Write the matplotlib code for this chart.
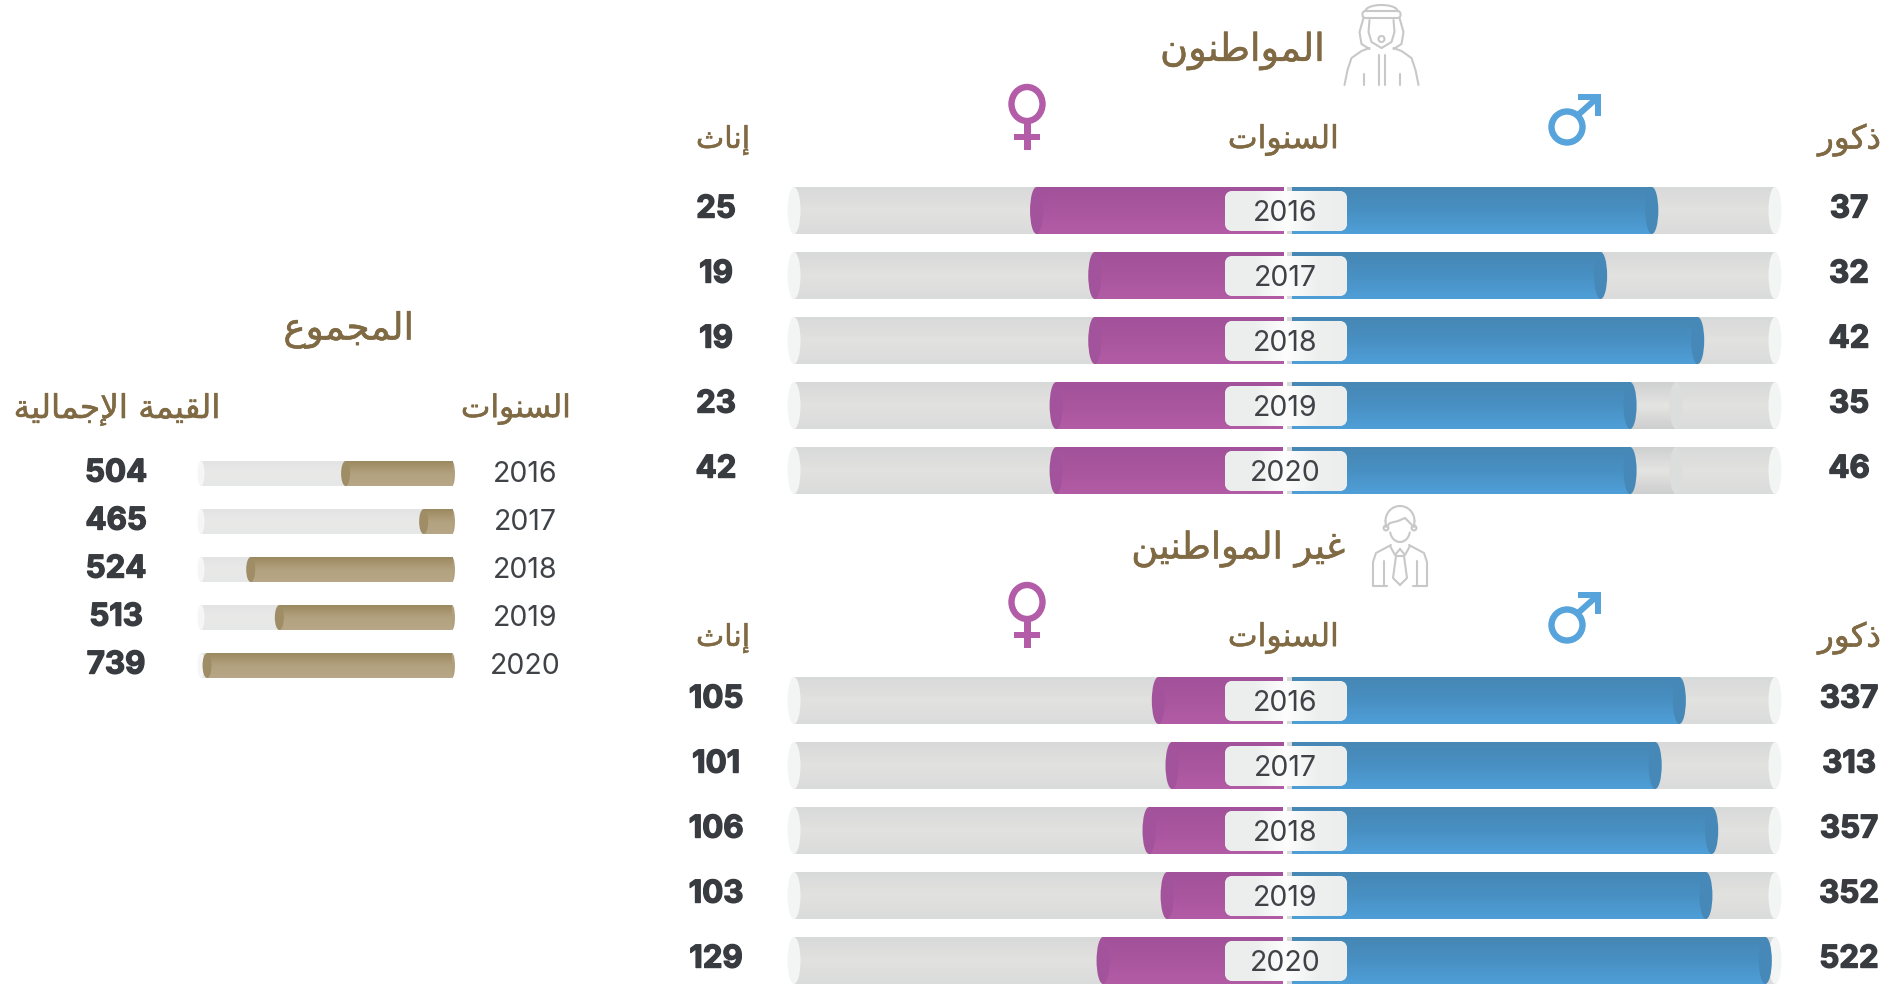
import numpy as np
import matplotlib
matplotlib.use("Agg")
import matplotlib.pyplot as plt
import matplotlib.patheffects as pe
from matplotlib.patches import Ellipse, FancyBboxPatch, Circle, Polygon
from matplotlib.lines import Line2D

# ---------- data ----------
years = [2016, 2017, 2018, 2019, 2020]

cit_female_labels = [25, 19, 19, 23, 42]
cit_male_labels = [37, 32, 42, 35, 46]
non_female_labels = [105, 101, 106, 103, 129]
non_male_labels = [337, 313, 357, 352, 522]
total_labels = [504, 465, 524, 513, 739]

# filled share of each track (%), as drawn
cit_female_fill = [50.4, 38.5, 38.5, 46.4, 46.4]
cit_male_fill = [74.5, 63.9, 84.0, 70.0, 70.0]
cit_male_ghost = [0, 0, 0, 79.5, 79.5]
non_female_fill = [25.5, 22.7, 27.4, 23.7, 36.8]
non_male_fill = [80.2, 75.2, 86.9, 85.7, 98.0]
total_fill = [42.4, 11.3, 80.2, 68.8, 97.6]

title_citizens = "المواطنون"
title_non = "غير المواطنين"
title_total = "المجموع"
label_years = "السنوات"
label_male = "ذكور"
label_female = "إناث"
label_value = "القيمة الإجمالية"

# ---------- style ----------
W, H = 1894, 984
BROWN = "#806a44"
DARK = "#383b3f"
YEARC = "#3f4246"
ICON = "#c8c8c8"
BLUE = ["#4687b4", "#4890c3", "#4f9fd8"]
MAG = ["#a2529a", "#a9569e", "#b35ca6"]
GOLD = ["#9b8960", "#b3a27f", "#b7a788"]
GREY = ["#d8d9d9", "#e2e2e0", "#dadbdb"]
GREY_L = ["#e3e4e4", "#e9e9e8", "#e6e7e7"]
GHOST = ["#cfd0d0", "#e4e4e3", "#cdcece"]
CAP = "#f3f4f4"

FONT_NUM = ["Inter", "DejaVu Sans"]

fig = plt.figure(figsize=(W / 100, H / 100), dpi=100, facecolor="white")


# ---------- Arabic shaping (matplotlib has no text shaping) ----------
FORMS = {"ا": (0xFE8D, 2), "إ": (0xFE87, 2), "ث": (0xFE99, 4), "ت": (0xFE95, 4),
         "ة": (0xFE93, 2), "ج": (0xFE9D, 4), "ذ": (0xFEAB, 2), "ر": (0xFEAD, 2),
         "س": (0xFEB1, 4), "ط": (0xFEC1, 4), "ع": (0xFEC9, 4), "غ": (0xFECD, 4),
         "ق": (0xFED5, 4), "ك": (0xFED9, 4), "ل": (0xFEDD, 4), "م": (0xFEE1, 4),
         "ن": (0xFEE5, 4), "و": (0xFEED, 2), "ي": (0xFEF1, 4)}


def shape(text):
    out = []
    chars = list(text.replace("لإ", "\uE001"))
    for i, c in enumerate(chars):
        prev = chars[i - 1] if i else " "
        nxt = chars[i + 1] if i + 1 < len(chars) else " "
        joined_prev = prev in FORMS and FORMS[prev][1] == 4
        if c == "\uE001":
            out.append(chr(0xFEFA if joined_prev else 0xFEF9))
            continue
        if c not in FORMS:
            out.append(c)
            continue
        start, n = FORMS[c]
        joins_next = n == 4 and (nxt in FORMS or nxt == "\uE001")
        idx = (1 if joined_prev else 0) if not joins_next else (3 if joined_prev else 2)
        out.append(chr(start + idx))
    return "".join(reversed(out))


# ---------- helpers ----------
def gradient(stops, n=128):
    pos = np.linspace(0, 1, len(stops))
    rgb = np.array([matplotlib.colors.to_rgb(s) for s in stops])
    t = np.linspace(0, 1, n)
    return np.stack([np.interp(t, pos, rgb[:, k]) for k in range(3)], axis=1)


def panel(px_zero, px_full, px_a, px_b, top, row_pitch, bar_h):
    """Axes whose x is % of track, and whose y is the row index."""
    left, right = min(px_a, px_b), max(px_a, px_b)
    half = bar_h / 2 / row_pitch
    height = 4 * row_pitch + bar_h
    ax = fig.add_axes([left / W, 1 - (top + height) / H, (right - left) / W, height / H])
    scale = (px_full - px_zero) / 100.0
    ax.set_xlim((left - px_zero) / scale, (right - px_zero) / scale)
    ax.set_ylim(4 + half, -half)
    ax.axis("off")
    ax.patch.set_alpha(0)
    ax.px_per_unit = abs(scale)
    ax.bar_rows = bar_h / row_pitch
    return ax


def cylinder(ax, lefts, rights, stops, z):
    rows = np.arange(len(lefts))
    lefts, rights = np.asarray(lefts, float), np.asarray(rights, float)
    bars = ax.barh(rows, rights - lefts, left=lefts, height=ax.bar_rows,
                   color=stops[1], linewidth=0, zorder=z)
    xl, yl = ax.get_xlim(), ax.get_ylim()
    g = gradient(stops)[:, None, :]
    for r, b, l0, r0 in zip(rows, bars, lefts, rights):
        if r0 == l0:
            continue
        h = ax.bar_rows / 2
        im = ax.imshow(g, extent=(l0, r0, r + h, r - h), aspect="auto",
                       interpolation="bilinear", zorder=z + 0.1, origin="upper")
        im.set_clip_path(b)
    ax.set_xlim(xl)
    ax.set_ylim(yl)


def caps(ax, xs, color, z, px_w=13):
    for r, x in enumerate(xs):
        if x == 0:
            continue
        ax.add_patch(Ellipse((x, r), px_w / ax.px_per_unit, ax.bar_rows,
                             facecolor=color, edgecolor="none", zorder=z, clip_on=False))


def draw_half(ax, fill, stops, capcol, track_from, ghost=None):
    n = len(fill)
    cylinder(ax, [track_from] * n, [100] * n, GREY, 1)
    caps(ax, [100] * n, CAP, 2)
    if ghost is not None:
        cylinder(ax, [f if g else 0 for f, g in zip(fill, ghost)], ghost, GHOST, 3)
        caps(ax, ghost, "#dcdddd", 4)
    cylinder(ax, [0] * n, fill, stops, 5)
    caps(ax, fill, capcol, 6)


over = fig.add_axes([0, 0, 1, 1], zorder=20)
over.set_xlim(0, W)
over.set_ylim(H, 0)
over.axis("off")
over.patch.set_alpha(0)
renderer = fig.canvas.get_renderer()


def ar_text(s, x0, x1, yc):
    t = over.text((x0 + x1) / 2, yc, shape(s), color=BROWN, ha="center", va="center",
                  family="DejaVu Sans", fontsize=20, zorder=6,
                  path_effects=[pe.withStroke(linewidth=0.4, foreground=BROWN)])
    w = t.get_window_extent(renderer).width
    t.set_fontsize(20 * (x1 - x0) / w)
    return t


def num(v, x, y, size=22.5):
    over.text(x, y, str(v), color=DARK, ha="center", va="center", family=FONT_NUM,
              fontsize=size, fontweight="bold", zorder=6,
              path_effects=[pe.withStroke(linewidth=1.0, foreground=DARK)])


def year(v, x, y, size=20.5):
    over.text(x, y, str(v), color=YEARC, ha="center", va="center", family=FONT_NUM,
              fontsize=size, zorder=6)


def stroke(xs, ys, lw=1.5, color=ICON):
    over.add_line(Line2D(xs, ys, color=color, lw=lw, solid_capstyle="round",
                         solid_joinstyle="round"))


def male_symbol(dy, col="#57a3dc"):
    over.add_patch(Circle((1567, 127 + dy), 15.5, fill=False, ec=col, lw=4.6))
    stroke([1578, 1597], [115 + dy, 98 + dy], lw=4.4, color=col)
    over.add_patch(Polygon([(1578, 94 + dy), (1601, 94 + dy), (1601, 116 + dy), (1595, 116 + dy),
                            (1595, 100 + dy), (1578, 100 + dy)], fc=col, ec="none"))


def female_symbol(dy, col="#b35ca8"):
    over.add_patch(Ellipse((1027, 104 + dy), 31, 34, fill=False, ec=col, lw=4.6))
    over.add_patch(Polygon([(1023.5, 122 + dy), (1030.5, 122 + dy), (1030.5, 150 + dy), (1023.5, 150 + dy)],
                           fc=col, ec="none"))
    over.add_patch(Polygon([(1014, 134 + dy), (1040, 134 + dy), (1040, 140 + dy), (1014, 140 + dy)],
                           fc=col, ec="none"))


def citizen_icon():
    c = 1381.5
    t = np.linspace(np.pi, 2 * np.pi, 30)
    stroke(c + 16 * np.cos(t), 11 + 6 * np.sin(t))
    over.add_patch(FancyBboxPatch((c - 19, 11), 38, 7, boxstyle="round,pad=0,rounding_size=3",
                                  fill=False, ec=ICON, lw=1.5))
    for s in (-1, 1):
        stroke([c + s * 18, c + s * 22, c + s * 20, c + s * 12],
               [18, 32, 44, 49])
        stroke([c + s * 12, c + s * 13, c + s * 10, c],
               [20, 32, 42, 48])
        stroke([c + s * 12, c + s * 20, c + s * 30, c + s * 34, c + s * 37],
               [48, 51, 58, 70, 85])
        stroke([c + s * 3, c + s * 3], [55, 85])
        stroke([c + s * 18, c + s * 18], [74, 85])
    over.add_patch(Circle((c, 39), 3, fill=False, ec=ICON, lw=1.5))


def person_icon():
    c = 1400
    t = np.linspace(np.pi, 2 * np.pi, 30)
    stroke(c + 14.5 * np.cos(t), 521 + 15 * np.sin(t))
    stroke([1385.5, 1386, 1390, 1398, 1405, 1409, 1414, 1414.5], [521, 527, 523, 521, 518, 522, 527, 521])
    stroke(c + 10 * np.cos(np.linspace(0.2, np.pi - 0.2, 30)),
           530 + 12 * np.sin(np.linspace(0.2, np.pi - 0.2, 30)))
    for s in (-1, 1):
        over.add_patch(Circle((c + s * 14, 528), 2.4, fill=False, ec=ICON, lw=1.5))
        stroke([c + s * 9, c + s * 24, c + s * 27, c + s * 27, c + s * 13],
               [545, 553, 562, 586, 586])
        stroke([c + s * 16.5, c + s * 16.5], [561, 586])
        stroke([c + s * 10, c + s * 5, c], [546, 555, 549])
        stroke([c + s * 4, c + s * 7, c], [556, 578, 585])
    stroke([c - 4, c + 4], [556, 556])


# ---------- gendered panels ----------
ROW_PITCH, BAR_H = 65, 47
ZERO_R, FULL_R, ZERO_L, FULL_L = 1292, 1775, 1283, 794


def gender_panel(top, fem_fill, male_fill, fem_labels, male_labels, ghost=None):
    axm = panel(ZERO_R, FULL_R, 1286, 1784, top, ROW_PITCH, BAR_H)
    draw_half(axm, male_fill, BLUE, "#4688b7", (1287 - ZERO_R) / 4.83, ghost)
    axf = panel(ZERO_L, FULL_L, 1284, 785, top, ROW_PITCH, BAR_H)
    draw_half(axf, fem_fill, MAG, "#a3529c", 0)
    for i, y in enumerate(years):
        rt = top + i * ROW_PITCH
        box = FancyBboxPatch((1225, rt + 4), 122, 40, boxstyle="round,pad=0,rounding_size=8",
                             fc="#eeeeee", ec="none", zorder=3)
        over.add_patch(box)
        im = over.imshow(gradient(["#eceeee", "#edefef", "#fdfdfd", "#eef0f0", "#eceeee"])[None, :, :],
                         extent=(1225, 1347, rt + 44, rt + 4), aspect="auto", zorder=3.1,
                         interpolation="bilinear")
        im.set_clip_path(box)
        year(y, 1285, rt + 26.5)
        num(fem_labels[i], 716, rt + 22.5)
        num(male_labels[i], 1849, rt + 22.5)
    over.set_xlim(0, W)
    over.set_ylim(H, 0)


gender_panel(187, cit_female_fill, cit_male_fill, cit_female_labels, cit_male_labels, cit_male_ghost)
gender_panel(677, non_female_fill, non_male_fill, non_female_labels, non_male_labels)

# ---------- total panel ----------
T_PITCH, T_H = 48, 25
axt = panel(452, 201, 458, 192, 461, T_PITCH, T_H)
n = len(years)
cylinder(axt, [0] * n, [100] * n, GREY_L, 1)
caps(axt, [100] * n, "#f6f6f6", 2, px_w=7)
cylinder(axt, [0] * n, total_fill, GOLD, 5)
caps(axt, total_fill, "#9f8d65", 6, px_w=9)
caps(axt, [0.01] * n, "#b0a07e", 4, px_w=6)

for i, (y, v) in enumerate(zip(years, total_labels)):
    rt = 461 + i * T_PITCH
    num(v, 116, rt + 12.5)
    year(y, 525, rt + 14)

# ---------- headers and icons ----------
ar_text(title_citizens, 1160, 1325, 51)
ar_text(title_non, 1131, 1345, 549)
ar_text(title_total, 283, 414, 330)
for dy in (0, 498):
    ar_text(label_years, 1228, 1339, 140 + dy)
    ar_text(label_male, 1818, 1881, 140 + dy)
    ar_text(label_female, 696, 750, 140 + dy)
    male_symbol(dy)
    female_symbol(dy)
ar_text(label_years, 461, 571, 409)
ar_text(label_value, 14, 221, 409)
citizen_icon()
person_icon()

over.set_xlim(0, W)
over.set_ylim(H, 0)
fig.savefig("out.png", dpi=100, facecolor="white")
